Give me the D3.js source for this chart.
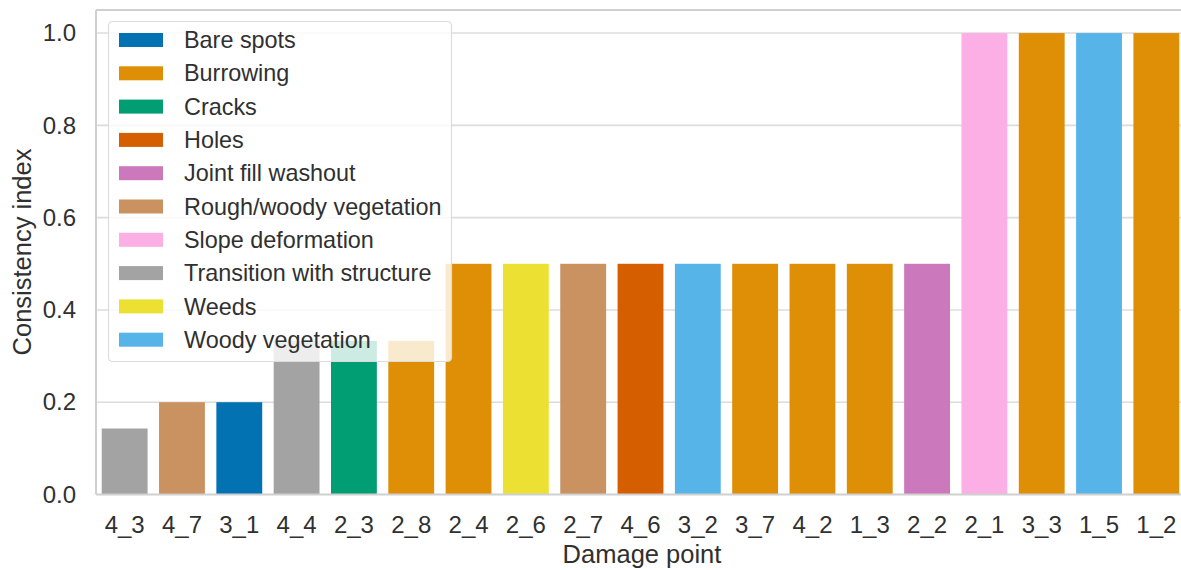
<!DOCTYPE html>
<html><head><meta charset="utf-8">
<script src="https://cdn.jsdelivr.net/npm/d3@7"></script>
<style>body{margin:0;background:#fff;overflow:hidden}svg{display:block;font-family:"Liberation Sans",Arial,sans-serif}</style>
</head><body><svg id="c" width="1181" height="570"></svg>
<script>
const points = ["4_3","4_7","3_1","4_4","2_3","2_8","2_4","2_6","2_7","4_6","3_2","3_7","4_2","1_3","2_2","2_1","3_3","1_5","1_2"];
const values = [0.143,0.2,0.2,0.333,0.333,0.333,0.5,0.5,0.5,0.5,0.5,0.5,0.5,0.5,0.5,1.0,1.0,1.0,1.0];
const damageTypes = ["Transition with structure","Rough/woody vegetation","Bare spots","Transition with structure","Cracks","Burrowing","Burrowing","Weeds","Rough/woody vegetation","Holes","Woody vegetation","Burrowing","Burrowing","Burrowing","Joint fill washout","Slope deformation","Burrowing","Woody vegetation","Burrowing"];
const legendLabels = ["Bare spots","Burrowing","Cracks","Holes","Joint fill washout","Rough/woody vegetation","Slope deformation","Transition with structure","Weeds","Woody vegetation"];
const legendColors = ["#0272b2","#de8f05","#029e73","#d55e00","#cc78bc","#ca9161","#fbafe4","#a3a3a3","#ece133","#56b4e9"];
const yTicks = [0,0.2,0.4,0.6,0.8,1.0];

const svg = d3.select("#c");
const L = 96, R = 1185, T = 10, B = 494.5;
const x = d3.scaleBand().domain(points).range([L, R]).paddingInner(0.2).paddingOuter(0.1);
const y = d3.scaleLinear().domain([0, 1.05]).range([B, T]);
const color = d3.scaleOrdinal().domain(legendLabels).range(legendColors);
const txt = "#303030";

// grid
svg.append("g").selectAll("line").data(yTicks.slice(1)).join("line")
  .attr("x1", L).attr("x2", R).attr("y1", d => y(d)).attr("y2", d => y(d))
  .attr("stroke", "#dcdcdc").attr("stroke-width", 1.6);

// bars
svg.append("g").selectAll("rect").data(points).join("rect")
  .attr("x", d => x(d)).attr("width", x.bandwidth())
  .attr("y", (d, i) => y(values[i])).attr("height", (d, i) => B - y(values[i]))
  .attr("fill", (d, i) => color(damageTypes[i]));

// spines
svg.append("line").attr("x1", L).attr("x2", L).attr("y1", T).attr("y2", B).attr("stroke", "#d0d0d0").attr("stroke-width", 2);
svg.append("line").attr("x1", L).attr("x2", R).attr("y1", B).attr("y2", B).attr("stroke", "#d0d0d0").attr("stroke-width", 2);
svg.append("line").attr("x1", L).attr("x2", R).attr("y1", T).attr("y2", T).attr("stroke", "#d0d0d0").attr("stroke-width", 2);

// y axis
const ya = svg.append("g").attr("transform", `translate(${L},0)`)
  .call(d3.axisLeft(y).tickValues(yTicks).tickFormat(d3.format(".1f")).tickSize(0).tickPadding(20));
ya.select(".domain").remove();
ya.selectAll("text").attr("font-size", 24).attr("fill", txt).attr("font-family", "Liberation Sans, Arial, sans-serif");

// x axis
const xa = svg.append("g").attr("transform", `translate(0,${B})`)
  .call(d3.axisBottom(x).tickSize(0).tickPadding(21));
xa.select(".domain").remove();
xa.selectAll("text").attr("font-size", 24).attr("fill", txt).attr("font-family", "Liberation Sans, Arial, sans-serif");

// axis titles
svg.append("text").attr("x", 642).attr("y", 563).attr("text-anchor", "middle")
  .attr("font-size", 25.5).attr("fill", txt).text("Damage point");
svg.append("text").attr("transform", "translate(31,252) rotate(-90)").attr("text-anchor", "middle")
  .attr("font-size", 25.5).attr("fill", txt).text("Consistency index");

// legend
const lg = svg.append("g");
lg.append("rect").attr("x", 108.5).attr("y", 21.5).attr("width", 343).attr("height", 340).attr("rx", 4)
  .attr("fill", "#fff").attr("fill-opacity", 0.8).attr("stroke", "#dcdcdc").attr("stroke-width", 1.2);
legendLabels.forEach((lab, i) => {
  const cy = 40 + i * 33.3;
  lg.append("rect").attr("x", 119).attr("y", cy - 7).attr("width", 44).attr("height", 14).attr("fill", color(lab));
  lg.append("text").attr("x", 184).attr("y", cy).attr("dy", "0.35em").attr("font-size", 23.4).attr("fill", txt).text(lab);
});
</script></body></html>
